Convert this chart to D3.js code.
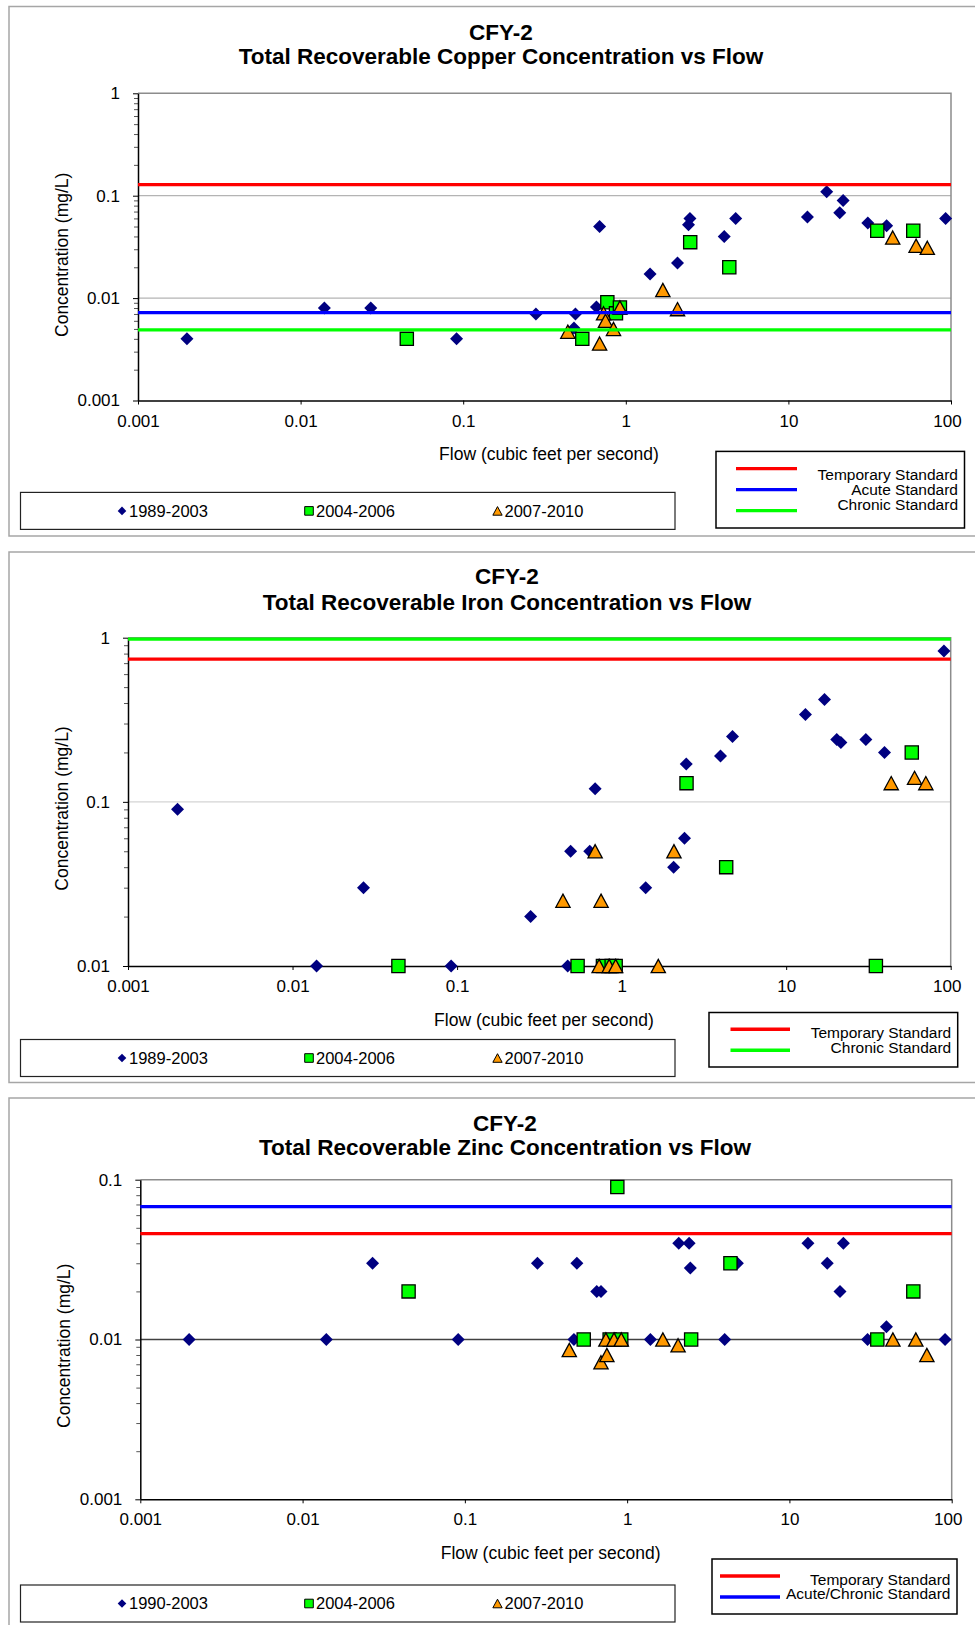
<!DOCTYPE html>
<html lang="en">
<head>
<meta charset="UTF-8" />
<title>CFY-2 Concentration vs Flow</title>
<script src="https://d3js.org/d3.v7.min.js"></script>
<style>
  body { margin: 0; padding: 0; background: #fff; }
  svg { display: block; font-family: Arial, "Liberation Sans", sans-serif; }
  .tick text { font-size: 17px; fill: #000; }
  .title { font-size: 22.5px; font-weight: bold; }
  .axis-label { font-size: 17.5px; }
  .series-legend { font-size: 16.5px; }
  .std-legend { font-size: 15.5px; }
</style>
</head>
<body>
<svg width="975" height="1625"></svg>
<script>
// x axis, shared by all three charts
const flowTicks = [0.001, 0.01, 0.1, 1, 10, 100];
const flowTickLabels = ["0.001", "0.01", "0.1", "1", "10", "100"];

// y axes
const copperYTicks = [0.001, 0.01, 0.1, 1];
const copperYLabels = ["0.001", "0.01", "0.1", "1"];
const ironYTicks = [0.01, 0.1, 1];
const ironYLabels = ["0.01", "0.1", "1"];
const zincYTicks = [0.001, 0.01, 0.1];
const zincYLabels = ["0.001", "0.01", "0.1"];

// legend names
const copperSeriesNames = ["1989-2003", "2004-2006", "2007-2010"];
const ironSeriesNames = ["1989-2003", "2004-2006", "2007-2010"];
const zincSeriesNames = ["1990-2003", "2004-2006", "2007-2010"];

// [flow (cfs), concentration (mg/L)]
const copper1989 = [[0.002,0.004],[0.014,0.008],[0.027,0.008],[0.091,0.004],[0.28,0.007],[0.48,0.0051],[0.49,0.007],[0.66,0.0082],[0.69,0.05],[1.41,0.0172],[2.08,0.022],[2.43,0.052],[2.48,0.06],[4.03,0.04],[4.74,0.06],[13.1,0.062],[17.2,0.109],[20.7,0.068],[21.7,0.09],[30.8,0.054],[40.2,0.051],[92.7,0.06]];
const copper2004 = [[0.045,0.004],[0.54,0.004],[0.77,0.0091],[0.87,0.0071],[0.92,0.0081],[2.49,0.0352],[4.33,0.02],[35.2,0.0455],[58.6,0.0455]];
const copper2007 = [[0.44,0.0047],[0.69,0.0036],[0.73,0.0071],[0.75,0.006],[0.84,0.005],[0.92,0.0081],[1.69,0.012],[2.08,0.0078],[43.8,0.039],[61,0.0325],[71.5,0.031]];

const iron1989 = [[0.002,0.09],[0.014,0.01],[0.027,0.03],[0.092,0.01],[0.28,0.02],[0.47,0.01],[0.49,0.05],[0.64,0.05],[0.69,0.12],[1.4,0.03],[2.07,0.04],[2.41,0.06],[2.47,0.17],[3.99,0.19],[4.72,0.25],[13.1,0.34],[17.1,0.42],[20.3,0.24],[21.5,0.23],[30.5,0.24],[39.6,0.2],[91,0.83]];
const iron2004 = [[0.044,0.01],[0.54,0.01],[0.77,0.01],[0.87,0.01],[0.92,0.01],[2.48,0.13],[4.32,0.04],[35.1,0.01],[58,0.2]];
const iron2007 = [[0.44,0.025],[0.69,0.05],[0.73,0.01],[0.75,0.025],[0.84,0.01],[0.92,0.01],[1.67,0.01],[2.08,0.05],[43.5,0.13],[60.3,0.14],[70.6,0.13]];

const zinc1990 = [[0.002,0.01],[0.014,0.01],[0.027,0.03],[0.091,0.01],[0.28,0.03],[0.47,0.01],[0.49,0.03],[0.65,0.02],[0.69,0.02],[1.39,0.01],[2.08,0.04],[2.41,0.04],[2.45,0.028],[3.99,0.01],[4.78,0.03],[13,0.04],[17.1,0.03],[20.5,0.02],[21.5,0.04],[30.3,0.01],[39.6,0.012],[91,0.01]];
const zinc2004 = [[0.045,0.02],[0.54,0.01],[0.78,0.01],[0.87,0.09],[0.92,0.01],[2.48,0.01],[4.33,0.03],[34.8,0.01],[58,0.02]];
const zinc2007 = [[0.44,0.0086],[0.69,0.0072],[0.74,0.01],[0.75,0.008],[0.83,0.01],[0.92,0.01],[1.66,0.01],[2.06,0.0092],[43.4,0.01],[60.1,0.01],[70.3,0.008]];

// water quality standards (mg/L)
const copperStandards = [["Temporary Standard", 0.128], ["Acute Standard", 0.0072], ["Chronic Standard", 0.0049]];
const ironStandards = [["Temporary Standard", 0.74], ["Chronic Standard", 0.98]];
const zincStandards = [["Temporary Standard", 0.046], ["Acute/Chronic Standard", 0.0678]];

const stdColor = {
  "Temporary Standard": "#ff0000",
  "Acute Standard": "#0000ff",
  "Chronic Standard": "#00ff00",
  "Acute/Chronic Standard": "#0000ff"
};

const svg = d3.select("svg");

// marker shapes: diamond, square, triangle
function markerPath(kind, s) {
  if (kind === 0) return `M0,${-s}L${s},0L0,${s}L${-s},0Z`;
  if (kind === 1) return `M${-s},${-s}H${s}V${s}H${-s}Z`;
  return `M0,${-s}L${s * 1.08},${s}L${-s * 1.08},${s}Z`;
}
const markerFill = ["#000080", "#00ff00", "#ff9900"];

function drawChart(c) {
  const g = svg.append("g");

  // chart frame
  g.append("rect")
    .attr("x", c.box[0]).attr("y", c.box[1])
    .attr("width", c.box[2]).attr("height", c.box[3])
    .attr("fill", "none").attr("stroke", "#a6a6a6").attr("stroke-width", 1.5);

  g.append("text").attr("class", "title")
    .attr("x", c.titleX).attr("y", c.titleY[0]).attr("dy", "0.35em")
    .attr("text-anchor", "middle").text("CFY-2");
  g.append("text").attr("class", "title")
    .attr("x", c.titleX).attr("y", c.titleY[1]).attr("dy", "0.35em")
    .attr("text-anchor", "middle")
    .text(`Total Recoverable ${c.metal} Concentration vs Flow`);

  const x = d3.scaleLog().domain([flowTicks[0], flowTicks[flowTicks.length - 1]]).range([c.l, c.r]);
  const y = d3.scaleLog().domain([c.yTicks[0], c.yTicks[c.yTicks.length - 1]]).range([c.b, c.t]);

  // gridlines at decades
  g.selectAll(".grid").data(c.yTicks.slice(1, -1)).enter().append("line")
    .attr("x1", c.l).attr("x2", c.r)
    .attr("y1", d => y(d)).attr("y2", d => y(d))
    .attr("stroke", c.grid).attr("stroke-width", 1.3);

  // top / right plot border
  g.append("path")
    .attr("d", `M${c.l},${c.t}H${c.r}V${c.b}`)
    .attr("fill", "none").attr("stroke", "#8c8c8c").attr("stroke-width", 1.5);

  // minor ticks on the y axis
  const minors = y.ticks().filter(v => !c.yTicks.some(t => Math.abs(t - v) / t < 1e-6));
  g.append("g").attr("transform", `translate(${c.l},0)`)
    .call(d3.axisLeft(y).tickValues(minors).tickSize(4).tickFormat(""))
    .call(a => a.select(".domain").remove())
    .call(a => a.selectAll("line").attr("stroke", "#555"));

  g.append("g").attr("transform", `translate(${c.l},0)`)
    .call(d3.axisLeft(y).tickValues(c.yTicks).tickSize(5).tickSizeOuter(0).tickPadding(13)
      .tickFormat((d, i) => c.yLabels[i]))
    .call(a => a.select(".domain").attr("stroke-width", 1.5))
    .call(a => a.selectAll(".tick text").attr("font-family", null).attr("font-size", null));

  g.append("g").attr("transform", `translate(0,${c.b})`)
    .call(d3.axisBottom(x).tickValues(flowTicks).tickSize(4).tickSizeOuter(0).tickPadding(10)
      .tickFormat((d, i) => flowTickLabels[i]))
    .call(a => a.select(".domain").attr("stroke-width", 1.5))
    .call(a => a.selectAll(".tick text").attr("font-family", null).attr("font-size", null))
    .call(a => a.selectAll(".tick:last-of-type text").attr("dx", "-4"));

  g.append("text").attr("class", "axis-label")
    .attr("transform", `translate(${c.yLab[0]},${c.yLab[1]}) rotate(-90)`)
    .attr("dy", "0.35em").attr("text-anchor", "middle")
    .text("Concentration (mg/L)");
  g.append("text").attr("class", "axis-label")
    .attr("x", c.xLab[0]).attr("y", c.xLab[1]).attr("dy", "0.35em")
    .attr("text-anchor", "middle")
    .text("Flow (cubic feet per second)");

  // data markers
  c.series.forEach((data, k) => {
    g.append("g").selectAll("path").data(data).enter().append("path")
      .attr("transform", d => `translate(${x(d[0])},${y(d[1])})`)
      .attr("d", markerPath(k, k === 0 ? 6.5 : 6.6))
      .attr("fill", markerFill[k])
      .attr("stroke", k === 0 ? "none" : "#000")
      .attr("stroke-width", 1.3);
  });

  // standards as horizontal lines
  g.selectAll(".std").data(c.standards).enter().append("line")
    .attr("x1", x(flowTicks[0])).attr("x2", x(flowTicks[flowTicks.length - 1]))
    .attr("y1", d => y(d[1])).attr("y2", d => y(d[1]))
    .attr("stroke", d => stdColor[d[0]]).attr("stroke-width", 3.3);

  // series legend
  const sl = c.seriesLegend;
  g.append("rect").attr("x", 20.5).attr("y", sl).attr("width", 654.5).attr("height", 37)
    .attr("fill", "#fff").attr("stroke", "#222").attr("stroke-width", 1.2);
  const mx = [122, 309, 497.5];
  c.names.forEach((n, k) => {
    g.append("path")
      .attr("transform", `translate(${mx[k]},${sl + 18.5})`)
      .attr("d", markerPath(k, 4.3))
      .attr("fill", markerFill[k])
      .attr("stroke", k === 0 ? "none" : "#000").attr("stroke-width", 1);
    g.append("text").attr("class", "series-legend")
      .attr("x", mx[k] + 7).attr("y", sl + 18.5).attr("dy", "0.35em").text(n);
  });

  // standards legend
  const b = c.stdBox;
  g.append("rect").attr("x", b[0]).attr("y", b[1]).attr("width", b[2]).attr("height", b[3])
    .attr("fill", "#fff").attr("stroke", "#000").attr("stroke-width", 1.5);
  const n = c.standards.length;
  const cy = b[1] + b[3] / 2;
  c.standards.forEach((s, i) => {
    const ly = cy + (i - (n - 1) / 2) * 21;
    const ty = cy + (i - (n - 1) / 2) * 14.7;
    g.append("line").attr("x1", c.stdLine[0]).attr("x2", c.stdLine[1])
      .attr("y1", ly).attr("y2", ly)
      .attr("stroke", stdColor[s[0]]).attr("stroke-width", 3.3);
    g.append("text").attr("class", "std-legend")
      .attr("x", b[0] + b[2] - 6.5).attr("y", ty).attr("dy", "0.35em")
      .attr("text-anchor", "end").text(s[0]);
  });
}

drawChart({
  metal: "Copper", box: [9, 6.5, 994, 529.5], titleX: 501, titleY: [31.7, 55.8],
  l: 138, r: 951, t: 93.3, b: 400.5,
  yTicks: copperYTicks, yLabels: copperYLabels, grid: "#b4b4b4",
  yLab: [62, 254.8], xLab: [549, 454],
  series: [copper1989, copper2004, copper2007], names: copperSeriesNames,
  standards: copperStandards, seriesLegend: 492.4,
  stdBox: [716, 451.4, 248.5, 76.6], stdLine: [736, 797]
});

drawChart({
  metal: "Iron", box: [9, 552, 994, 530.5], titleX: 507, titleY: [576.5, 602.6],
  l: 128, r: 950.7, t: 637.7, b: 966,
  yTicks: ironYTicks, yLabels: ironYLabels, grid: "#d4d4d4",
  yLab: [62, 808.5], xLab: [544, 1019.7],
  series: [iron1989, iron2004, iron2007], names: ironSeriesNames,
  standards: ironStandards, seriesLegend: 1039.5,
  stdBox: [709, 1012.5, 248.7, 54.5], stdLine: [730.5, 790]
});

drawChart({
  metal: "Zinc", box: [9, 1098, 994, 560], titleX: 505, titleY: [1123, 1147],
  l: 140.3, r: 951.7, t: 1179.7, b: 1499.3,
  yTicks: zincYTicks, yLabels: zincYLabels, grid: "#404040",
  yLab: [64, 1345.8], xLab: [550.7, 1552.6],
  series: [zinc1990, zinc2004, zinc2007], names: zincSeriesNames,
  standards: zincStandards, seriesLegend: 1585,
  stdBox: [712, 1559, 245, 55], stdLine: [720, 780]
});
</script>
</body>
</html>
